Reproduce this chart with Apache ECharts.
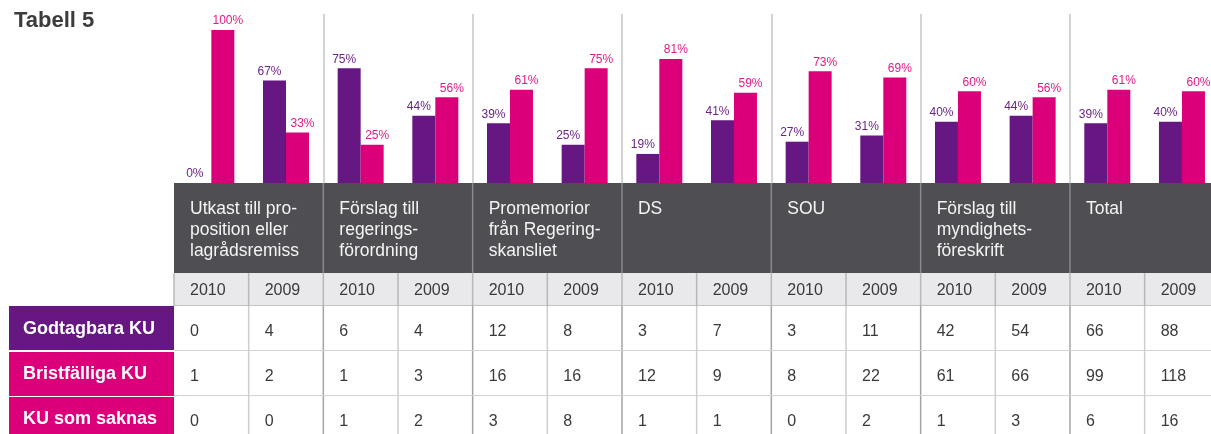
<!DOCTYPE html>
<html>
<head>
<meta charset="utf-8">
<script src="https://cdn.jsdelivr.net/npm/echarts@6/dist/echarts.min.js"></script>
<style>html,body{margin:0;padding:0;background:#fff}#c{width:1211px;height:434px}</style>
</head>
<body>
<div id="c"></div>
<script>
// ---- data ----
const groups = ['Utkast till pro-\nposition eller\nlagrådsremiss', 'Förslag till\nregerings-\nförordning', 'Promemorior\nfrån Regering-\nskansliet', 'DS', 'SOU', 'Förslag till\nmyndighets-\nföreskrift', 'Total'];
const years = ['2010', '2009'];
const godtagbaraPct   = [0, 67, 75, 44, 39, 25, 19, 41, 27, 31, 40, 44, 39, 40];
const bristfalligaPct = [100, 33, 25, 56, 61, 75, 81, 59, 73, 69, 60, 56, 61, 60];
const rowLabels = ['Godtagbara KU', 'Bristfälliga KU', 'KU som saknas'];
const godtagbaraKU   = [0, 4, 6, 4, 12, 8, 3, 7, 3, 11, 42, 54, 66, 88];
const bristfalligaKU = [1, 2, 1, 3, 16, 16, 12, 9, 8, 22, 61, 66, 99, 118];
const saknasKU       = [0, 0, 1, 2, 3, 8, 1, 1, 0, 2, 1, 3, 6, 16];
const tableRows = [godtagbaraKU, bristfalligaKU, saknasKU];

// ---- style / layout ----
const PURPLE = '#661782', PINK = '#db0079';
const FONT = "'Liberation Sans', Arial, sans-serif";
const columns = [];
groups.forEach((g, gi) => years.forEach(y => columns.push(gi + '|' + y)));
const rowTops = [0, 90, 123, 168, 213];
const rowHeights = [90, 33, 45, 45, 45];
const tableDepth = 258;

function renderTable(params, api) {
  const r = params.dataIndex;
  const cw = api.size([1, 0])[0];
  const left = api.coord([0, 0])[0] - cw / 2;
  const n = columns.length;
  const yT = api.coord([0, rowTops[r]])[1];
  const yB = api.coord([0, rowTops[r] + rowHeights[r]])[1];
  const h = yB - yT;
  const ch = [];
  if (r === 0) {
    ch.push({type: 'rect', shape: {x: left, y: yT, width: n * cw, height: h}, style: {fill: '#4f4e53'}});
    for (let g = 1; g < groups.length; g++) {
      ch.push({type: 'line', shape: {x1: left + g * 2 * cw, y1: yT, x2: left + g * 2 * cw, y2: yB}, style: {stroke: '#8a898d', lineWidth: 1.5}});
    }
    groups.forEach((g, gi) => {
      ch.push({type: 'text', x: left + gi * 2 * cw + 16, y: yT + 16,
        style: {text: g, fill: '#f4f4f4', font: '17.5px ' + FONT, lineHeight: 21, verticalAlign: 'top', align: 'left'}});
    });
  } else if (r === 1) {
    ch.push({type: 'rect', shape: {x: left, y: yT, width: n * cw, height: h}, style: {fill: '#e9e9eb'}});
    for (let c = 0; c <= n; c++) {
      ch.push({type: 'line', shape: {x1: left + c * cw, y1: yT, x2: left + c * cw, y2: yB}, style: {stroke: '#b8b8b8', lineWidth: 1.5}});
    }
    ch.push({type: 'line', shape: {x1: left, y1: yB, x2: left + n * cw, y2: yB}, style: {stroke: '#b4b4b4', lineWidth: 1.5}});
    columns.forEach((col, c) => {
      ch.push({type: 'text', x: left + c * cw + 16, y: (yT + yB) / 2 + 1,
        style: {text: years[c % 2], fill: '#3a3a3a', font: '16px ' + FONT, verticalAlign: 'middle', align: 'left'}});
    });
  } else {
    const k = r - 2;
    ch.push({type: 'rect', shape: {x: left, y: yT, width: n * cw, height: h}, style: {fill: '#ffffff'}});
    for (let c = 1; c <= n; c++) {
      const grp = c % 2 === 0;
      ch.push({type: 'line', shape: {x1: left + c * cw, y1: yT, x2: left + c * cw, y2: yB}, style: {stroke: grp ? '#a3a3a3' : '#cdcdcd', lineWidth: 1.5}});
    }
    ch.push({type: 'line', shape: {x1: left, y1: yB, x2: left + n * cw, y2: yB}, style: {stroke: '#d3d3d3', lineWidth: 2}});
    tableRows[k].forEach((v, c) => {
      ch.push({type: 'text', x: left + c * cw + 16, y: (yT + yB) / 2 + 3,
        style: {text: String(v), fill: '#3a3a3a', font: '16px ' + FONT, verticalAlign: 'middle', align: 'left'}});
    });
    ch.push({type: 'rect', shape: {x: left - 165, y: yT + (k === 0 ? 0 : 1), width: 165, height: h - 1}, style: {fill: k === 0 ? PURPLE : PINK}});
    ch.push({type: 'text', x: left - 151, y: (yT + yB) / 2 + 1,
      style: {text: rowLabels[k], fill: '#ffffff', font: 'bold 18px ' + FONT, verticalAlign: 'middle', align: 'left'}});
  }
  return {type: 'group', children: ch};
}

const chart = echarts.init(document.getElementById('c'), null, {renderer: 'canvas'});
const barLabel = (color, dx) => ({show: true, position: 'top', distance: 3, offset: [dx, 0], color: color, fontSize: 12, fontFamily: FONT, formatter: '{c}%'});
chart.setOption({
  animation: false,
  backgroundColor: '#ffffff',
  title: {text: 'Tabell 5', left: 9, top: 5, textStyle: {fontFamily: FONT, fontWeight: 'bold', fontSize: 22, color: '#3c3c3c'}},
  grid: [
    {left: 174, top: 14, width: 1045.3, height: 169, containLabel: false, outerBoundsMode: 'none'},
    {left: 174, top: 183, width: 1045.3, height: tableDepth, containLabel: false, outerBoundsMode: 'none'}
  ],
  xAxis: [
    {type: 'category', gridIndex: 0, data: columns, axisLine: {show: false}, axisTick: {show: false}, axisLabel: {show: false},
     splitLine: {show: true, interval: (i) => i > 0 && i % 2 === 0, lineStyle: {color: '#c6c6c6', width: 1.5}}},
    {type: 'category', gridIndex: 1, data: columns, show: false}
  ],
  yAxis: [
    {type: 'value', gridIndex: 0, min: 0, max: 100 * 169 / 153, show: false, splitLine: {show: false}},
    {type: 'value', gridIndex: 1, min: 0, max: tableDepth, inverse: true, show: false, splitLine: {show: false}}
  ],
  series: [
    {type: 'bar', xAxisIndex: 0, yAxisIndex: 0, data: godtagbaraPct, barWidth: 23, barGap: '0%', itemStyle: {color: PURPLE}, label: barLabel('#6b2488', -5)},
    {type: 'bar', xAxisIndex: 0, yAxisIndex: 0, data: bristfalligaPct, barWidth: 23, barGap: '0%', itemStyle: {color: PINK}, label: barLabel('#de1a85', 5)},
    {type: 'custom', xAxisIndex: 1, yAxisIndex: 1, clip: false, data: [0, 1, 2, 3, 4], renderItem: renderTable, silent: true}
  ]
});
</script>
</body>
</html>
